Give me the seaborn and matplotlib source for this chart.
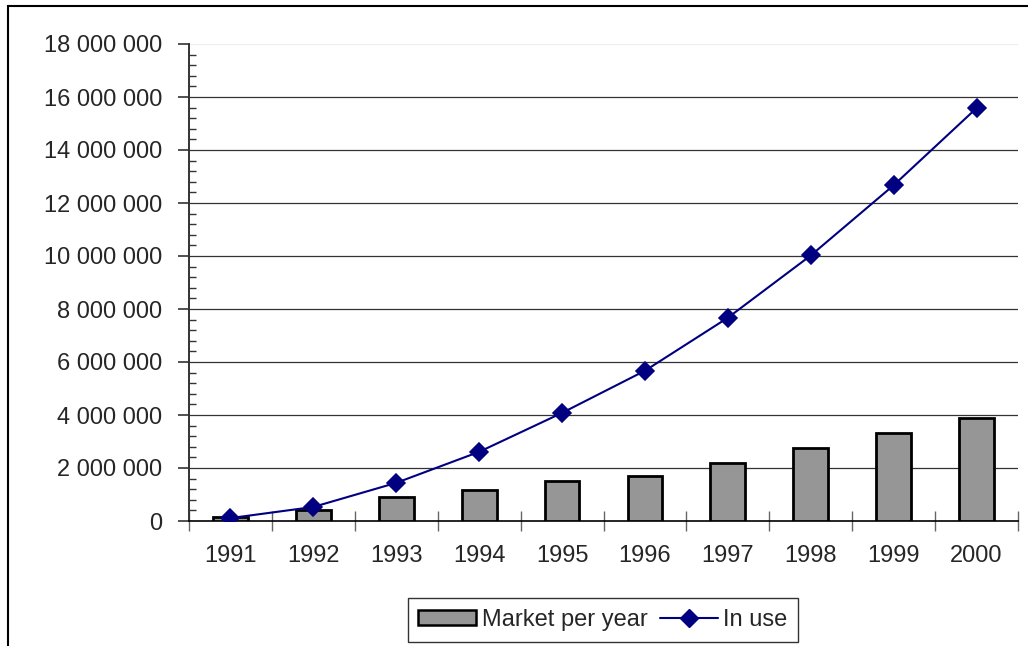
import matplotlib
matplotlib.use("Agg")
import matplotlib.pyplot as plt
import matplotlib.ticker as mticker
from matplotlib.patches import Patch, Rectangle
from matplotlib.lines import Line2D
import seaborn as sns
import numpy as np
import pandas as pd

years = ["1991", "1992", "1993", "1994", "1995", "1996", "1997", "1998", "1999", "2000"]
market_per_year = [150000, 420000, 910000, 1170000, 1520000, 1710000, 2200000, 2760000, 3330000, 3870000]
in_use = [110000, 530000, 1440000, 2610000, 4080000, 5670000, 7670000, 10020000, 12670000, 15580000]

df = pd.DataFrame({"year": years, "market": market_per_year, "in_use": in_use})

sns.set_style("white")
plt.rcParams["font.family"] = ["Liberation Sans", "DejaVu Sans"]

W, H = 1028, 646
fig = plt.figure(figsize=(W / 100, H / 100), dpi=100)
ax = fig.add_axes([189 / W, 1 - 521 / H, (1018 - 189) / W, (521 - 44) / H])

# outer chart border
fig.patches.append(Rectangle((8 / W, -0.05), 1.2, 1 - 6 / H + 0.05, transform=fig.transFigure,
                             fill=False, edgecolor="black", linewidth=1.5))

bar_col = "#969696"
line_col = "#000080"

sns.barplot(data=df, x="year", y="market", color=bar_col, edgecolor="black",
            linewidth=2, width=0.42, saturation=1, ax=ax, zorder=3)
sns.pointplot(data=df, x="year", y="in_use", color=line_col, markers="D",
              markersize=9, linewidth=1.5, ax=ax, zorder=4)

ax.set_ylim(0, 18000000)
ax.set_xlim(-0.5, len(years) - 0.5)
ax.set_xlabel("")
ax.set_ylabel("")

# gridlines
for v in range(2000000, 18000001, 2000000):
    ax.axhline(v, color="#eeeeee" if v == 18000000 else "#333333", linewidth=0.9, zorder=1)

# y axis
ax.yaxis.set_major_locator(mticker.MultipleLocator(2000000))
ax.yaxis.set_minor_locator(mticker.MultipleLocator(400000))
ax.yaxis.set_major_formatter(mticker.FuncFormatter(lambda v, p: f"{int(v):,}".replace(",", " ")))
ax.tick_params(axis="y", which="major", direction="out", length=8, width=1.2, color="#333333",
               labelsize=17, pad=11, left=True)
ax.tick_params(axis="y", which="minor", direction="in", length=5, width=1, color="#333333", left=True)

# x axis: ticks at category boundaries, labels at centres
ax.xaxis.set_major_locator(mticker.FixedLocator(np.arange(-0.5, len(years), 1.0)))
ax.xaxis.set_major_formatter(mticker.NullFormatter())
ax.xaxis.set_minor_locator(mticker.FixedLocator(np.arange(len(years))))
ax.xaxis.set_minor_formatter(mticker.FixedFormatter(years))
ax.tick_params(axis="x", which="major", direction="inout", length=14, width=1, color="#666666", bottom=True)
ax.tick_params(axis="x", which="minor", length=0, labelsize=17, pad=17)

for s in ["top", "right"]:
    ax.spines[s].set_visible(False)
ax.spines["left"].set_color("#333333")
ax.spines["left"].set_linewidth(1.4)
ax.spines["bottom"].set_color("black")
ax.spines["bottom"].set_linewidth(1.2)

handles = [Patch(facecolor=bar_col, edgecolor="black", linewidth=1.8),
           Line2D([0], [0], color=line_col, marker="D", markersize=9, linewidth=1.5)]
leg = fig.legend(handles, ["Market per year", "In use"], loc="center",
                 bbox_to_anchor=(603 / W, 1 - 620 / H), ncol=2, frameon=True, fancybox=False,
                 edgecolor="black", fontsize=17, handlelength=2.45, handleheight=0.6,
                 handletextpad=0.25, columnspacing=0.5, borderpad=0.45, borderaxespad=0)
leg.get_frame().set_linewidth(1.0)

fig.savefig("out.png", dpi=100)
